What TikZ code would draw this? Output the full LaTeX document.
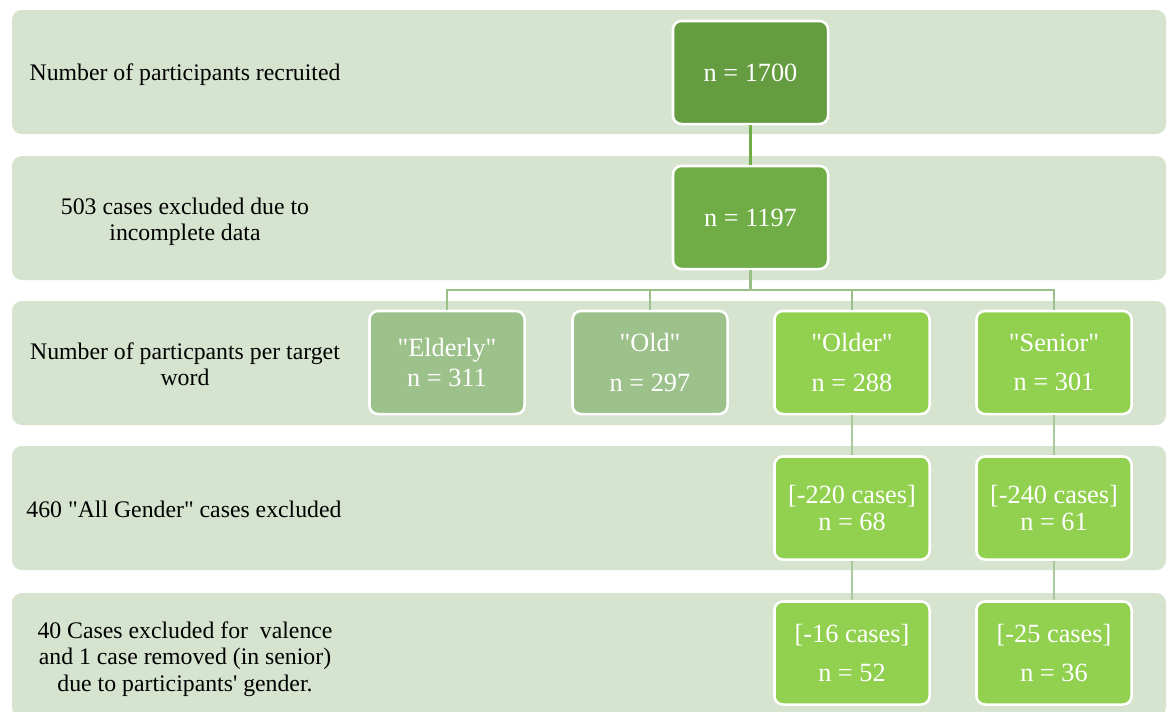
\documentclass[tikz,border=0pt]{standalone}
\usepackage{fontspec}
\setmainfont{Liberation Serif}[Ligatures=TeXOff]

\definecolor{rowgreen}{HTML}{D6E3CF}
\definecolor{darkgreen}{HTML}{659C3F}
\definecolor{midgreen}{HTML}{70AD47}
\definecolor{sagegreen}{HTML}{9DC18B}
\definecolor{limegreen}{HTML}{92D050}
\definecolor{linkdark}{HTML}{70AD47}
\definecolor{linkmid}{HTML}{9BC087}
\definecolor{linkpale}{HTML}{A9CB9B}

\tikzset{
    rowband/.style={fill=rowgreen,rounded corners=7pt},
    rowtext/.style={align=center,text=black,
        font=\fontsize{16.9}{18.8}\selectfont},
    countbox/.style={draw=white,line width=1.8pt,rounded corners=6pt,
        minimum width=3.875cm,minimum height=2.575cm,inner sep=0pt,
        align=center,text=white,font=\fontsize{18.7}{21.3}\selectfont},
    link/.style={line width=1.8pt}
}

\begin{document}
\begin{tikzpicture}[x=0.025cm,y=-0.025cm]
    \useasboundingbox (0,0) rectangle (1170,711);
    \clip (0,0) rectangle (1170,711);

    % the five rows
    \foreach \top in {10,156,301,446,593}
        \fill[rowband] (12,\top) rectangle (1166,\top+124);

    % captions on the left
    \node[rowtext] (cap1) at (185,75) {Number of participants recruited};
    \node[rowtext] (cap2) at (185,222) {503 cases excluded due to\\incomplete data};
    \node[rowtext] (cap3) at (185,364) {Number of particpants per target\\word};
    \node[rowtext] (cap4) at (184,509) {460 "All Gender" cases excluded};
    \node[rowtext] (cap5) at (185,659) {40 Cases excluded for~ valence\\and 1 case removed (in senior)\\due to participants' gender.};

    % counts
    \node[countbox,fill=darkgreen] (recruited) at (750.5,72.5) {n = 1700};
    \node[countbox,fill=midgreen] (complete) at (750.5,217.5) {n = 1197};

    \node[countbox,fill=sagegreen] (elderly) at (447,362.5) {"Elderly"\\n = 311};
    \node[countbox,fill=sagegreen] (old) at (650,362.5) {"Old"\\[7pt]n = 297};
    \node[countbox,fill=limegreen] (older) at (852,362.5) {"Older"\\[7pt]n = 288};
    \node[countbox,fill=limegreen] (senior) at (1054,362.5) {"Senior"\\[7pt]n = 301};

    \node[countbox,fill=limegreen] (olderg) at (852,508) {[-220 cases]\\[-2pt]n = 68};
    \node[countbox,fill=limegreen] (seniorg) at (1054,508) {[-240 cases]\\[-2pt]n = 61};

    \node[countbox,fill=limegreen] (olderv) at (852,653) {[-16 cases]\\[7pt]n = 52};
    \node[countbox,fill=limegreen] (seniorv) at (1054,653) {[-25 cases]\\[7pt]n = 36};

    % connectors
    \draw[link,linkdark] (recruited) -- (complete);
    \coordinate (split) at (750.5,290);
    \draw[link,linkmid] (complete) -- (split);
    \draw[link,linkmid] (split) -| (elderly);
    \draw[link,linkmid] (split) -| (old);
    \draw[link,linkmid] (split) -| (older);
    \draw[link,linkmid] (split) -| (senior);
    \draw[link,linkpale] (older) -- (olderg);
    \draw[link,linkpale] (senior) -- (seniorg);
    \draw[link,linkpale] (olderg) -- (olderv);
    \draw[link,linkpale] (seniorg) -- (seniorv);
\end{tikzpicture}
\end{document}
